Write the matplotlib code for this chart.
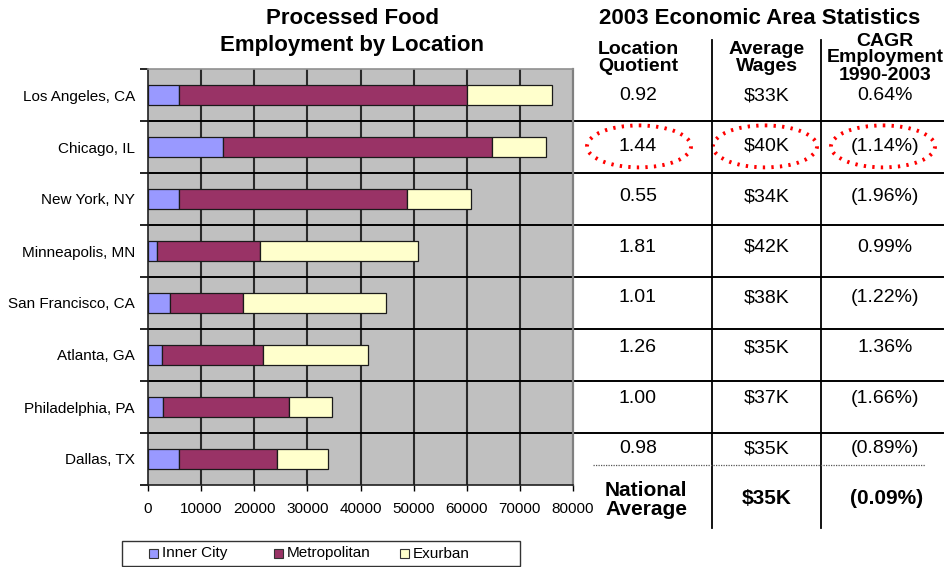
import matplotlib
matplotlib.use("Agg")
import matplotlib.pyplot as plt
from matplotlib.patches import Ellipse, Rectangle
from matplotlib.lines import Line2D
import numpy as np

plt.rcParams['font.family'] = ['Liberation Sans', 'DejaVu Sans']

cities = ["Los Angeles, CA", "Chicago, IL", "New York, NY", "Minneapolis, MN",
          "San Francisco, CA", "Atlanta, GA", "Philadelphia, PA", "Dallas, TX"]
inner_city = [5800, 14200, 5800, 1600, 4100, 2700, 2900, 5900]
metropolitan = [54200, 50500, 42900, 19500, 13700, 19000, 23700, 18300]
exurban = [16000, 10300, 12100, 29800, 27000, 19700, 8000, 9600]

location_quotient = ["0.92", "1.44", "0.55", "1.81", "1.01", "1.26", "1.00", "0.98"]
average_wages = ["$33K", "$40K", "$34K", "$42K", "$38K", "$35K", "$37K", "$35K"]
cagr_employment = ["0.64%", "(1.14%)", "(1.96%)", "0.99%", "(1.22%)", "1.36%", "(1.66%)", "(0.89%)"]
national_avg = ["National\nAverage", "$35K", "(0.09%)"]
highlight_row = 1

series_names = ["Inner City", "Metropolitan", "Exurban"]
colors = ["#9999FF", "#993366", "#FFFFCC"]
xticks = [0, 10000, 20000, 30000, 40000, 50000, 60000, 70000, 80000]

W, H = 947, 567
fig = plt.figure(figsize=(W / 100, H / 100), dpi=100)

# plot area pixel box
L, R, T, B = 148, 573, 69, 485
ax = fig.add_axes([L / W, 1 - B / H, (R - L) / W, (B - T) / H])
ax.set_facecolor("#C0C0C0")

y = np.arange(len(cities))
left = np.zeros(len(cities))
for vals, c in zip([inner_city, metropolitan, exurban], colors):
    ax.barh(y, vals, left=left, height=0.4, color=c, edgecolor="#1a1a1a",
            linewidth=0.9, zorder=3)
    left = left + np.array(vals)

ax.set_xlim(0, 80000)
ax.set_ylim(len(cities) - 0.5, -0.5)
ax.set_xticks(xticks)
ax.set_xticklabels([str(v) for v in xticks], fontsize=11)
ax.set_yticks(y)
ax.set_yticklabels(cities, fontsize=11)
ax.set_yticks(np.arange(len(cities) + 1) - 0.5, minor=True)
ax.tick_params(axis="y", which="major", length=0, pad=9.4)
ax.tick_params(axis="y", which="minor", length=6, width=1.2, color="black", direction="out")
ax.tick_params(axis="x", which="major", length=4, width=1.0, pad=8, direction="out")
for xv in xticks[1:-1]:
    ax.axvline(xv, color="#2a2a2a", lw=1.5, zorder=1)
# category boundary lines extending across the table
ext = (943 - L) / (R - L)
for b in np.arange(1, len(cities)) - 0.5:
    ax.axhline(b, xmin=0, xmax=ext, color="black", lw=1.4, zorder=2, clip_on=False)
ax.spines["left"].set_color("#202020")
ax.spines["left"].set_linewidth(1.2)
ax.spines["bottom"].set_color("#202020")
ax.spines["bottom"].set_linewidth(1.2)
ax.spines["top"].set_color("#909090")
ax.spines["top"].set_linewidth(1.2)
ax.spines["right"].set_color("#808080")
ax.spines["right"].set_linewidth(1.6)

# overlay in pixel coordinates
ov = fig.add_axes([0, 0, 1, 1], zorder=5)
ov.set_xlim(0, W)
ov.set_ylim(H, 0)
ov.axis("off")
ov.patch.set_alpha(0)

ov.text(352, 32, "Processed Food\nEmployment by Location", ha="center", va="center",
        fontsize=16, fontweight="bold", linespacing=1.4)
ov.text(760, 18, "2003 Economic Area Statistics", ha="center", va="center",
        fontsize=16, fontweight="bold")

cx = [638, 767, 885]
ov.text(cx[0], 58, "Location\nQuotient", ha="center", va="center", fontsize=14,
        fontweight="bold", linespacing=1.05)
ov.text(cx[1], 58, "Average\nWages", ha="center", va="center", fontsize=14,
        fontweight="bold", linespacing=1.05)
ov.text(cx[2], 58, "CAGR\nEmployment\n1990-2003", ha="center", va="center", fontsize=14,
        fontweight="bold", linespacing=1.0)

for i in range(len(cities)):
    yy = 96 + i * 50.4
    for col, vals in zip(cx, [location_quotient, average_wages, cagr_employment]):
        ov.text(col, yy, vals[i], ha="center", va="center", fontsize=14)

ov.text(646, 500, national_avg[0], ha="center", va="center", fontsize=15,
        fontweight="bold", linespacing=1.0)
ov.text(cx[1], 499, national_avg[1], ha="center", va="center", fontsize=15, fontweight="bold")
ov.text(887, 499, national_avg[2], ha="center", va="center", fontsize=15, fontweight="bold")

for xv in [712, 821]:
    ov.add_line(Line2D([xv, xv], [40, 528], color="black", lw=1.3))
ov.add_line(Line2D([593, 925], [465, 465], color="#555555", lw=0.9, ls=(0, (1, 1))))

hy = 96 + highlight_row * 50.4
for ex in [639, 765, 883]:
    ov.add_patch(Ellipse((ex, hy), 104, 42, fill=False, edgecolor="#FF0000",
                         lw=2.8, ls=(0, (0.6, 1.6)), capstyle="butt"))

# legend box
ov.add_patch(Rectangle((122, 541), 398, 25, fill=False, edgecolor="#333333", lw=1.0))
for mx, name, c in zip([153, 278, 404], series_names, colors):
    ov.add_patch(Rectangle((mx - 4.5, 549), 9, 9, facecolor=c, edgecolor="#333333", lw=0.8))
    ov.text(mx + 8.5, 553.5, name, ha="left", va="center", fontsize=11)

fig.savefig("out.png", dpi=100)
